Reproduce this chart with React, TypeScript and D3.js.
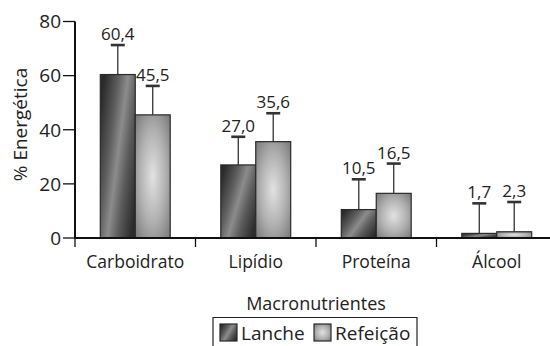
import React from "react";
import * as d3 from "d3";

const width = 550;
const height = 346;
const marginTop = 21.5;
const marginLeft = 75;
const plotBottom = 238;
const plotRight = 557;

const categories = ["Carboidrato", "Lipídio", "Proteína", "Álcool"];
const series = ["Lanche", "Refeição"];
const lanche = [60.4, 27.0, 10.5, 1.7];
const refeicao = [45.5, 35.6, 16.5, 2.3];
const lancheSd = [10.9, 10.4, 11.2, 11.1];
const refeicaoSd = [10.7, 10.5, 11.0, 11.0];
const yTicks = [0, 20, 40, 60, 80];

const font = "'Open Sans', 'Noto Sans', sans-serif";
const fmt = (v: number) => v.toFixed(1).replace(".", ",");

export default function App() {
  const x = d3.scaleBand<string>().domain(categories).range([marginLeft, plotRight]).paddingInner(0.42).paddingOuter(0.21);
  const xs = d3.scaleBand<string>().domain(series).range([0, x.bandwidth()]);
  const y = d3.scaleLinear().domain([0, 80]).range([plotBottom, marginTop]);

  const rows = categories.map((c, i) => [
    { cat: c, s: "Lanche", v: lanche[i], sd: lancheSd[i] },
    { cat: c, s: "Refeição", v: refeicao[i], sd: refeicaoSd[i] },
  ]).flat();

  const step = x.step();
  const boundaries = categories.map((c) => (x(c) as number) + x.bandwidth() / 2 - step / 2);

  const fillFor = (s: string) => (s === "Lanche" ? "url(#gLanche)" : "url(#gRef)");

  return (
    <svg width={width} height={height} style={{ position: "absolute", left: 0, top: 0 }} fontFamily={font}>
      <defs>
        <linearGradient id="gLanche" x1="0" y1="0.2" x2="1" y2="0.8">
          <stop offset="0" stopColor="#2a2a2a" />
          <stop offset="0.3" stopColor="#5e5e5e" />
          <stop offset="0.5" stopColor="#8c8c8c" />
          <stop offset="0.72" stopColor="#5a5a5a" />
          <stop offset="1" stopColor="#2c2c2c" />
        </linearGradient>
        <radialGradient id="gRef" cx="0.5" cy="0.5" r="0.75">
          <stop offset="0" stopColor="#e2e2e2" />
          <stop offset="0.5" stopColor="#b0b0b0" />
          <stop offset="1" stopColor="#707070" />
        </radialGradient>
      </defs>

      {/* barras com desvio */}
      {rows.map((d, i) => {
        const bx = (x(d.cat) as number) + (xs(d.s) as number);
        const bw = xs.bandwidth();
        const cx = bx + bw / 2;
        const capY = y(d.v + d.sd);
        return (
          <g key={i}>
            <line x1={cx} x2={cx} y1={y(d.v)} y2={capY} stroke="#333" strokeWidth={1.3} />
            <line x1={cx - 7} x2={cx + 7} y1={capY} y2={capY} stroke="#333" strokeWidth={2.6} />
            <rect x={bx} y={y(d.v)} width={bw} height={plotBottom - y(d.v)} fill={fillFor(d.s)} stroke="#2a2a2a" strokeWidth={1.2} />
            <text x={cx} y={capY - 5} textAnchor="middle" fontSize={17} fill="#222">{fmt(d.v)}</text>
          </g>
        );
      })}

      {/* eixo y */}
      <line x1={marginLeft} x2={marginLeft} y1={marginTop} y2={plotBottom + 1} stroke="#111" strokeWidth={2} />
      {yTicks.map((t) => (
        <g key={t}>
          <line x1={63} x2={marginLeft} y1={y(t)} y2={y(t)} stroke="#111" strokeWidth={1.3} />
          <text x={61} y={y(t)} dy="0.36em" textAnchor="end" fontSize={19} fill="#222">{t}</text>
        </g>
      ))}
      <text transform="translate(27,124.5) rotate(-90)" textAnchor="middle" fontSize={19} fill="#222">% Energética</text>

      {/* eixo x */}
      <line x1={marginLeft - 1} x2={width} y1={plotBottom} y2={plotBottom} stroke="#111" strokeWidth={2} />
      {boundaries.map((b, i) => (
        <line key={i} x1={b} x2={b} y1={plotBottom} y2={plotBottom + 9} stroke="#111" strokeWidth={1.3} />
      ))}
      {categories.map((c) => (
        <text key={c} x={(x(c) as number) + x.bandwidth() / 2} y={268} textAnchor="middle" fontSize={17.5} fill="#222">{c}</text>
      ))}

      {/* legenda */}
      <text x={316} y={310} textAnchor="middle" fontSize={18} fill="#222">Macronutrientes</text>
      <path d="M213,346 V317.5 H417 V346" fill="none" stroke="#222" strokeWidth={1.2} />
      {series.map((s, i) => {
        const lx = i === 0 ? 220 : 314;
        return (
          <g key={s}>
            <rect x={lx} y={324} width={17} height={17} fill={fillFor(s)} stroke="#2a2a2a" strokeWidth={1.2} />
            <text x={lx + 21} y={340} fontSize={19} fill="#222">{s}</text>
          </g>
        );
      })}
    </svg>
  );
}
